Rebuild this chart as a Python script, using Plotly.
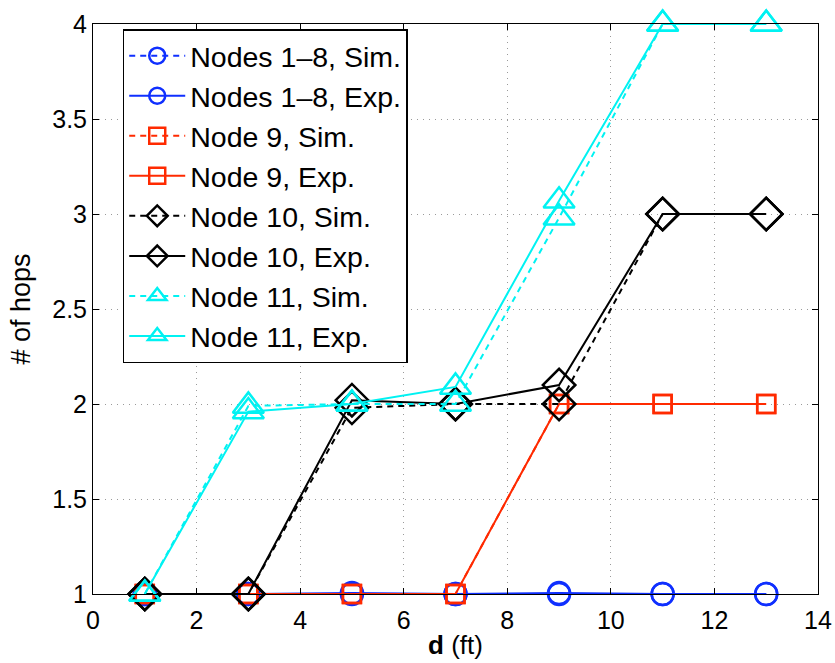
import plotly.graph_objects as go

# distance d (ft) at which hop counts were measured
d_ft = [1, 3, 5, 7, 9, 11, 13]

# hop counts per node group
nodes_1_8_sim = [1, 1, 1, 1, 1, 1, 1]
nodes_1_8_exp = [1, 1, 1.005, 1, 1.005, 1, 1]
node9_sim = [1, 1, 1, 1, 2, 2, 2]
node9_exp = [1, 1, 1, 1, 2, 2, 2]
node10_sim = [1, 1, 1.98, 2, 2, 3, 3]
node10_exp = [1, 1, 2.02, 2, 2.1, 3, 3]
node11_sim = [1, 1.99, 2, 2, 2.98, 4, 4]
node11_exp = [1, 1.96, 2, 2.09, 3.07, 4, 4]

x_ticks = [0, 2, 4, 6, 8, 10, 12, 14]
y_ticks = [1, 1.5, 2, 2.5, 3, 3.5, 4]
y_tick_text = ["1", "1.5", "2", "2.5", "3", "3.5", "4"]

BLUE = "#0f2fff"
RED = "#ff2a00"
CYAN = "#00f2f2"
BLACK = "#000000"
FONT = "Liberation Sans, Arial, sans-serif"

series = [
    ("Nodes 1\u20138, Sim.", nodes_1_8_sim, BLUE, "circle-open", 22, "6px,5px"),
    ("Nodes 1\u20138, Exp.", nodes_1_8_exp, BLUE, "circle-open", 22, "solid"),
    ("Node 9, Sim.", node9_sim, RED, "square-open", 18, "6px,5px"),
    ("Node 9, Exp.", node9_exp, RED, "square-open", 18, "solid"),
    ("Node 10, Sim.", node10_sim, BLACK, "diamond-open", 25, "6px,5px"),
    ("Node 10, Exp.", node10_exp, BLACK, "diamond-open", 25, "solid"),
    ("Node 11, Sim.", node11_sim, CYAN, "triangle-up-open", 27, "6px,5px"),
    ("Node 11, Exp.", node11_exp, CYAN, "triangle-up-open", 27, "solid"),
]

fig = go.Figure()
for name, ys, color, symbol, size, dash in series:
    fig.add_trace(go.Scatter(
        x=d_ft, y=ys, name=name, mode="lines+markers",
        line=dict(color=color, width=2, dash=dash),
        marker=dict(symbol=symbol, size=size, color=color,
                    line=dict(color=color, width=2.5)),
        cliponaxis=False,
    ))

axis_common = dict(
    showline=True, linecolor="black", linewidth=1, mirror="ticks",
    ticks="inside", ticklen=6, tickcolor="black", tickwidth=1,
    showgrid=True, gridcolor="#9a9a9a", gridwidth=1, griddash="1px,5px",
    zeroline=False, automargin=False,
    tickfont=dict(family=FONT, size=25, color="black"),
)

fig.update_layout(
    width=835, height=663,
    margin=dict(l=93, r=17, t=24, b=69),
    paper_bgcolor="white", plot_bgcolor="white",
    font=dict(family=FONT, size=25, color="black"),
    xaxis=dict(range=[0, 14], tickvals=x_ticks, ticklabelstandoff=4,
               title=dict(text="<b>d</b> (ft)", font=dict(size=26), standoff=2),
               **axis_common),
    yaxis=dict(range=[1, 4], tickvals=y_ticks, ticktext=y_tick_text,
               title=dict(text="# of hops", font=dict(size=27), standoff=13),
               **axis_common),
    legend=dict(
        x=0.041, y=0.991, xanchor="left", yanchor="top",
        bgcolor="white", bordercolor="black", borderwidth=1.5,
        font=dict(family=FONT, size=28.5), itemwidth=56, tracegroupgap=0,
    ),
)

fig.write_html("out.html")
